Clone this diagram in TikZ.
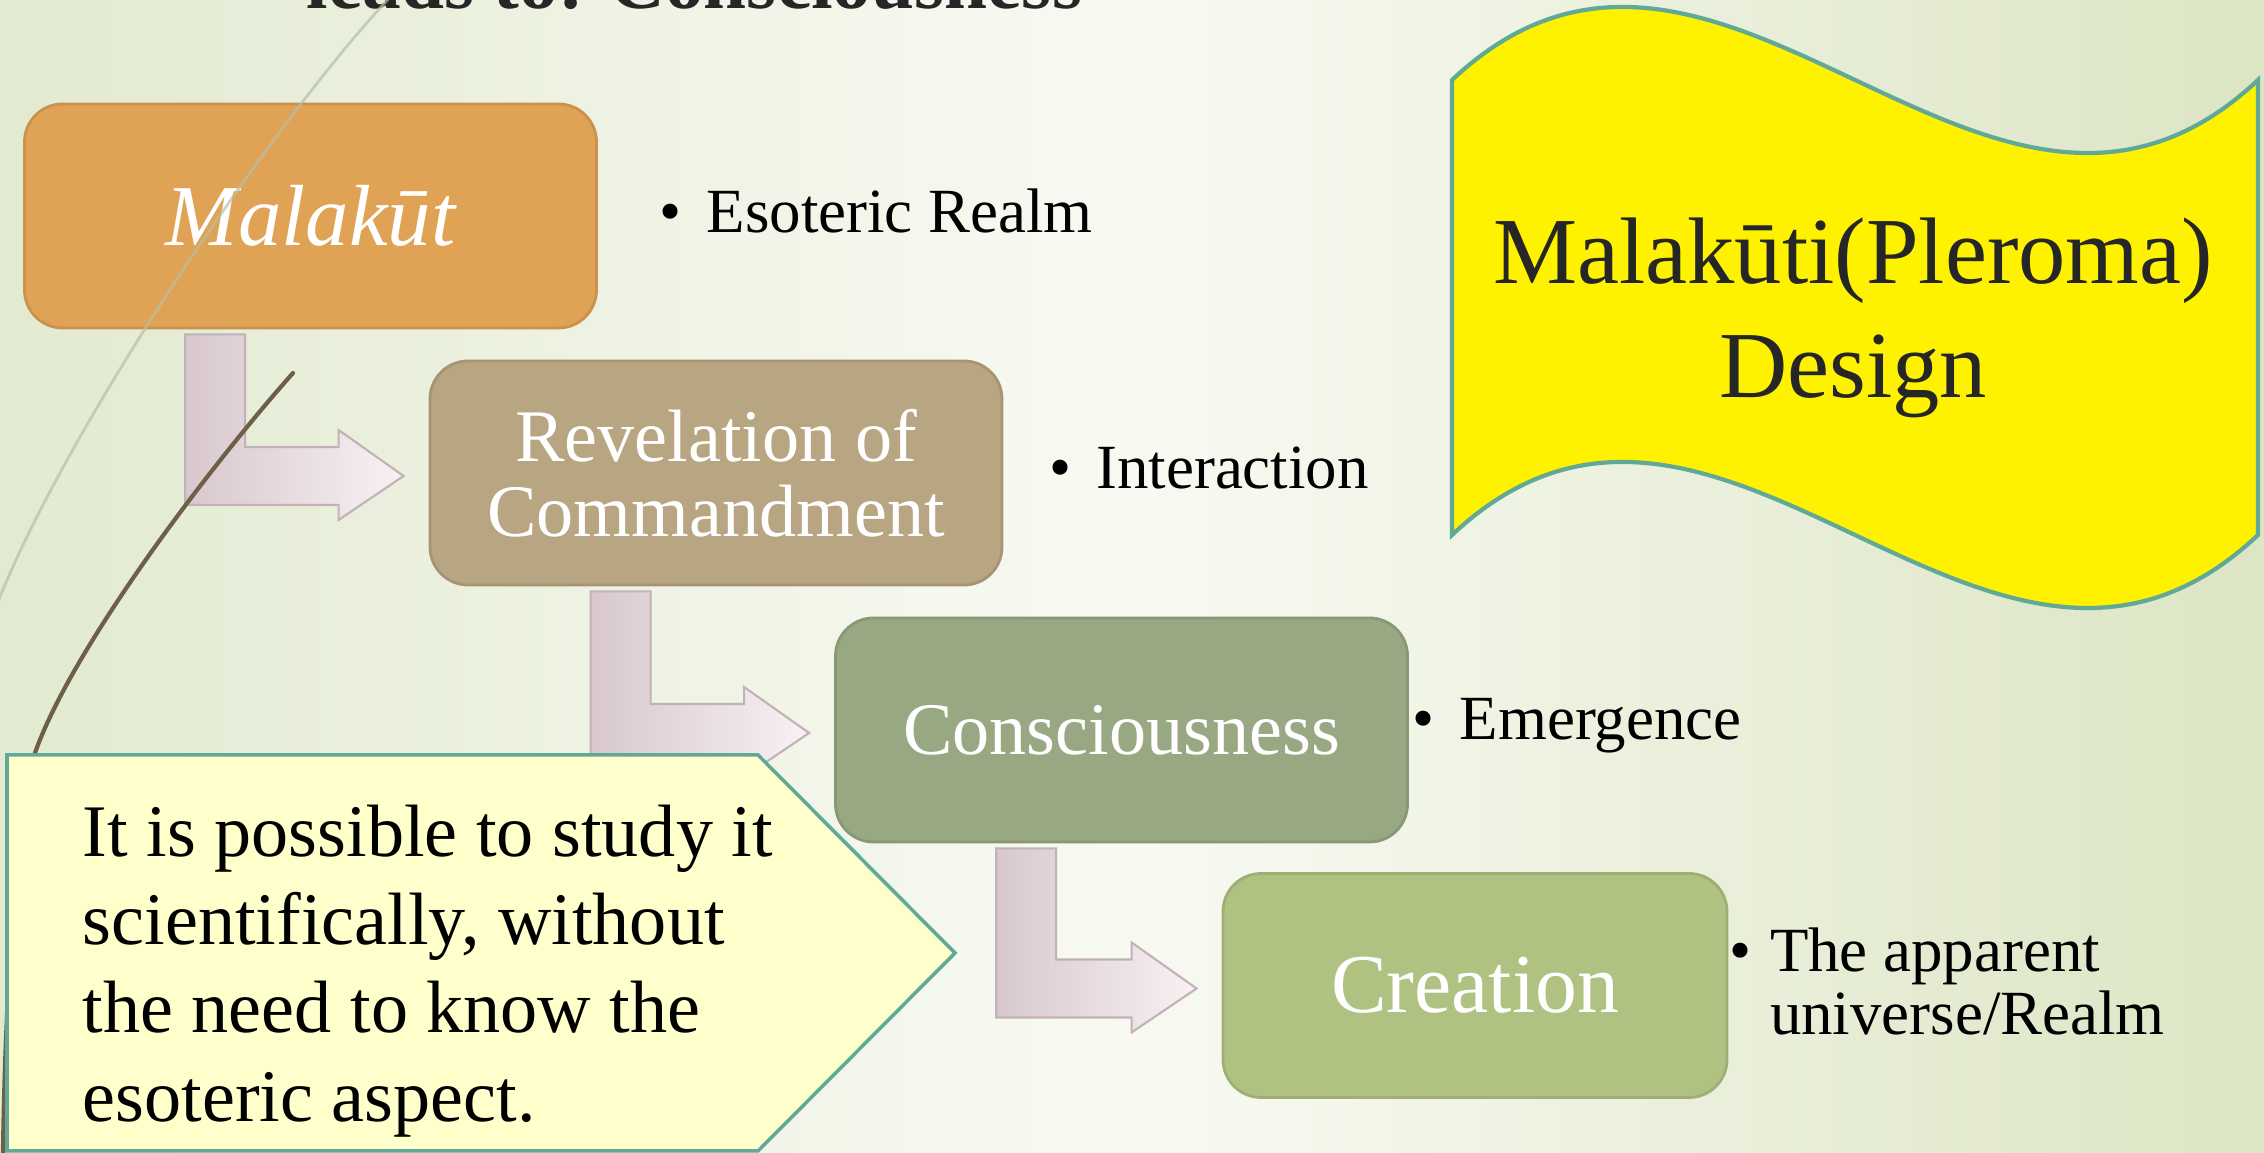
\documentclass[tikz,border=0pt]{standalone}
\usepackage{fontspec}
\setmainfont{Liberation Serif}
\usepackage{tikz}
\usetikzlibrary{positioning, calc}
\usepackage{xcolor}

\definecolor{orangebox}{HTML}{E0A254}
\definecolor{tanbox}{HTML}{B8A582}
\definecolor{sagebox}{HTML}{98A882}
\definecolor{olivebox}{HTML}{B0C282}
\definecolor{arrowdark}{HTML}{D8C8CD}
\definecolor{arrowlight}{HTML}{F8F1F3}
\definecolor{arrowedge}{HTML}{C2B2B7}
\definecolor{noteyellow}{HTML}{FFFFCC}
\definecolor{tealline}{HTML}{62A896}
\definecolor{bgleft}{HTML}{E2EAD1}
\definecolor{bgmid}{HTML}{F8FAF2}
\definecolor{bgright}{HTML}{DCE5C4}
\definecolor{wispbrown}{HTML}{6E6048}
\definecolor{wispgray}{HTML}{B8BFA6}
\definecolor{titlegray}{HTML}{262626}

\newcommand{\bentarrow}[2]{%
  \path[arrowbody] let \p1=(#1.south west), \p2=(#2.west) in
    (\x1+1.62cm,\y1-0.05cm) -- (\x1+2.22cm,\y1-0.05cm)
    -- (\x1+2.22cm,\y2+0.26cm) -- (\x2-0.90cm,\y2+0.26cm)
    -- (\x2-0.90cm,\y2+0.43cm) -- (\x2-0.25cm,\y2-0.03cm)
    -- (\x2-0.90cm,\y2-0.47cm) -- (\x2-0.90cm,\y2-0.32cm)
    -- (\x1+1.62cm,\y2-0.32cm) -- cycle;}

\begin{document}
\begin{tikzpicture}[node distance=2cm, on grid]
    \tikzstyle{stage}=[shape=rectangle, rounded corners=0.38cm, minimum width=5.72cm, minimum height=2.24cm, text=white, align=center, inner sep=0pt, line width=0.8pt]
    \tikzstyle{point}=[anchor=west, align=left, inner sep=0pt, font=\fontsize{17.9}{18.2}\selectfont]
    \tikzstyle{arrowbody}=[left color=arrowdark, right color=arrowlight, draw=arrowedge, line width=0.6pt]
    \tikzstyle{wisp}=[line cap=round]

    \useasboundingbox (0,0) rectangle (22.64,11.53);
    \clip (0,0) rectangle (22.64,11.53);
    \shade[left color=bgleft, right color=bgright, middle color=bgmid] (0,0) rectangle (22.64,11.53);

    \node[anchor=base west, inner sep=0pt, text=titlegray, font=\fontsize{22}{22}\selectfont\bfseries] (title) at (3.06,11.44) {leads to: Consciousness};

    \node[stage, fill=orangebox, draw=orangebox!90!black, font=\fontsize{24.7}{25}\selectfont\itshape] (malakut) at (3.105,9.37) {Malakūt};
    \node[stage, fill=tanbox, draw=tanbox!90!black, font=\fontsize{21.1}{21.3}\selectfont, below right=2.57cm and 4.055cm of malakut] (revelation) {Revelation of\\Commandment};
    \node[stage, fill=sagebox, draw=sagebox!90!black, font=\fontsize{21.1}{21.3}\selectfont, below right=2.57cm and 4.055cm of revelation] (conscious) {Consciousness};
    \node[stage, fill=olivebox, draw=olivebox!90!black, minimum width=5.04cm, font=\fontsize{23.8}{24}\selectfont, below right=2.555cm and 3.535cm of conscious] (creation) {Creation};

    \node[point, xshift=0.61cm, yshift=0.05cm] (esoteric) at (malakut.east) {\textbullet\hspace{0.4em}Esoteric Realm};
    \node[point, xshift=0.45cm, yshift=0.05cm] (interaction) at (revelation.east) {\textbullet\hspace{0.4em}Interaction};
    \node[point, xshift=0.03cm, yshift=0.04cm] (emergence) at (conscious.east) {\textbullet\hspace{0.4em}Emergence};
    \node[point, xshift=0.0cm, yshift=0.04cm] (apparent) at (creation.east) {\textbullet\hspace{0.3em}The apparent\\\phantom{\textbullet}\hspace{0.3em}universe/Realm};

    \bentarrow{malakut}{revelation}
    \bentarrow{revelation}{conscious}
    \bentarrow{conscious}{creation}

    \draw[wisp, wispgray, line width=0.8pt, opacity=0.7] (3.94,11.6) .. controls (2.7,10.3) and (0.5,7.0) .. (-0.1,5.3);
    \draw[wisp, wispbrown, line width=1.2pt] (2.93,7.80) .. controls (2.0,6.75) and (0.7,5.0) .. (0.35,4.0)
        .. controls (0.15,3.2) and (0.05,1.5) .. (0.03,0);

    \draw[tealline, line width=1.2pt, fill=yellow] (14.52,10.73) .. controls (17.21,13.26) and (19.89,8.20) .. (22.58,10.73)
        -- (22.58,6.18) .. controls (19.89,3.65) and (17.21,8.71) .. (14.52,6.18) -- cycle;
    \node[align=center, text=titlegray, font=\fontsize{26.9}{32.6}\selectfont] (design) at (18.53,8.35) {Malakūti(Pleroma)\\Design};

    \draw[tealline, line width=1pt, fill=noteyellow] (0.07,3.98) -- (7.58,3.98) -- (9.55,2.00) -- (7.58,0.02) -- (0.07,0.02) -- cycle;
    \node[anchor=west, align=left, inner sep=0pt, font=\fontsize{21.1}{25.1}\selectfont] (note) at (0.82,1.82) {It is possible to study it\\scientifically, without\\the need to know the\\esoteric aspect.};
\end{tikzpicture}
\end{document}
